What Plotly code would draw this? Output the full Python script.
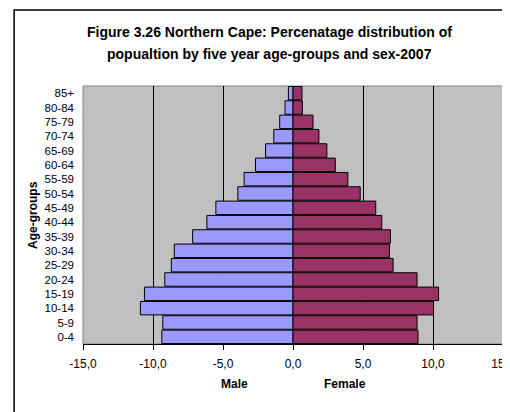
import plotly.graph_objects as go

age_groups = ["0-4", "5-9", "10-14", "15-19", "20-24", "25-29", "30-34", "35-39",
              "40-44", "45-49", "50-54", "55-59", "60-64", "65-69", "70-74",
              "75-79", "80-84", "85+"]
male = [9.37, 9.30, 10.90, 10.61, 9.16, 8.69, 8.48, 7.17, 6.15, 5.51, 3.94,
        3.49, 2.68, 1.96, 1.37, 0.95, 0.57, 0.33]
female = [8.93, 8.86, 10.04, 10.40, 8.86, 7.15, 6.89, 6.96, 6.34, 5.91, 4.80,
          3.92, 3.02, 2.42, 1.85, 1.43, 0.67, 0.64]
tick_vals = [-15, -10, -5, 0, 5, 10, 15]
tick_text = ["-15,0", "-10,0", "-5,0", "0,0", "5,0", "10,0", "15,0"]

FONT = "Liberation Sans, Arial, sans-serif"

fig = go.Figure()
fig.add_trace(go.Bar(
    y=age_groups, x=[-v for v in male], orientation="h", name="Male",
    marker=dict(color="#9999FF", line=dict(color="black", width=1)),
))
fig.add_trace(go.Bar(
    y=age_groups, x=female, orientation="h", name="Female",
    marker=dict(color="#993366", line=dict(color="black", width=1)),
))

# page body has an 8px margin, so the figure is a bit smaller than the window
fig.update_layout(
    width=502, height=404,
    barmode="overlay", bargap=0.06,
    showlegend=False,
    paper_bgcolor="white", plot_bgcolor="#C0C0C0",
    margin=dict(l=75, r=7, t=78, b=68, autoexpand=False),
    font=dict(family=FONT, color="black"),
    xaxis=dict(
        range=[-15, 15], tickvals=tick_vals, ticktext=tick_text,
        showgrid=True, gridcolor="black", gridwidth=1,
        zeroline=True, zerolinecolor="black", zerolinewidth=1,
        showline=True, linecolor="black", linewidth=1,
        ticks="outside", ticklen=5, tickcolor="black",
        tickfont=dict(size=12), ticklabelstandoff=4,
        ticklabeloverflow="allow", automargin=False,
    ),
    yaxis=dict(
        categoryorder="array", categoryarray=age_groups,
        tickmode="array", tickvals=age_groups,
        showgrid=False, zeroline=False, showline=False,
        ticks="", tickfont=dict(size=11.5), ticklabelstandoff=8,
        automargin=False,
    ),
    shapes=[
        # outer chart frame (runs off the picture on the right and bottom)
        dict(type="rect", xref="paper", yref="paper",
             x0=-0.164, x1=1.1, y0=-0.4, y1=1.295,
             line=dict(color="black", width=1.5), layer="below"),
        # plot area border
        dict(type="rect", xref="paper", yref="paper",
             x0=0, x1=1, y0=0, y1=1,
             line=dict(color="#808080", width=1), layer="below"),
    ],
    annotations=[
        dict(text="<b>Figure 3.26 Northern Cape: Percenatage distribution of</b>",
             xref="paper", yref="paper", x=0.443, y=1.209,
             showarrow=False, font=dict(size=14), xanchor="center", yanchor="middle"),
        dict(text="<b>popualtion by five year age-groups and sex-2007</b>",
             xref="paper", yref="paper", x=0.443, y=1.124,
             showarrow=False, font=dict(size=14), xanchor="center", yanchor="middle"),
        dict(text="<b>Male</b>", xref="paper", yref="paper", x=0.361, y=-0.155,
             showarrow=False, font=dict(size=12), xanchor="center", yanchor="middle"),
        dict(text="<b>Female</b>", xref="paper", yref="paper", x=0.623, y=-0.155,
             showarrow=False, font=dict(size=12), xanchor="center", yanchor="middle"),
        dict(text="<b>Age-groups</b>", xref="paper", yref="paper", x=-0.119, y=0.5,
             showarrow=False, font=dict(size=12), textangle=-90,
             xanchor="center", yanchor="middle"),
    ],
)

fig.write_html("out.html")
